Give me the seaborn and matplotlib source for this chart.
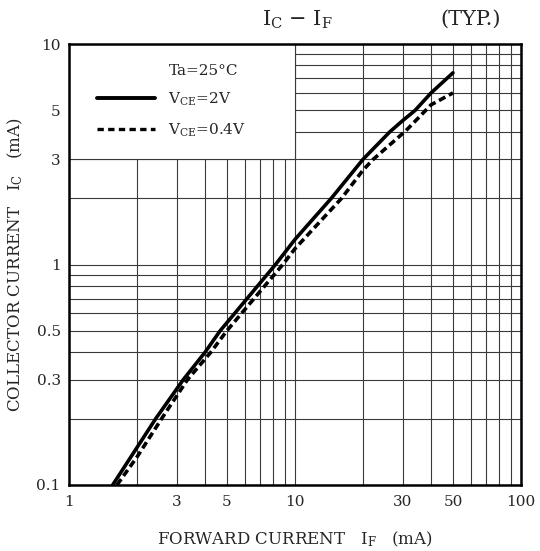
import matplotlib
matplotlib.use("Agg")
import matplotlib.pyplot as plt
import numpy as np
import pandas as pd
import seaborn as sns
from matplotlib.lines import Line2D
from matplotlib.patches import Rectangle

# values (IF in mA, IC in mA)
if_2v = [1.56, 2.0, 2.42, 3.2, 4.0, 4.66, 8.2, 10, 14.5, 20, 26.3, 30, 34, 40, 50]
ic_2v = [0.1, 0.148, 0.2, 0.3, 0.4, 0.5, 1.0, 1.3, 2.0, 3.0, 4.0, 4.5, 5.0, 6.0, 7.4]

if_04v = [1.63, 2.0, 2.57, 3.34, 4.24, 4.99, 8.83, 10, 16.1, 20, 22.2, 31, 40, 50]
ic_04v = [0.1, 0.134, 0.2, 0.3, 0.4, 0.5, 1.0, 1.18, 2.0, 2.68, 3.0, 4.05, 5.3, 6.0]

x_ticks = [1, 3, 5, 10, 30, 50, 100]
x_ticklabels = ["1", "3", "5", "10", "30", "50", "100"]
y_ticks = [0.1, 0.3, 0.5, 1, 3, 5, 10]
y_ticklabels = ["0.1", "0.3", "0.5", "1", "3", "5", "10"]

x_grid = [m * d for d in (1, 10) for m in range(1, 10)] + [100]
y_grid = [m * d for d in (0.1, 1) for m in range(1, 10)] + [10]

sns.set_style("white")
plt.rcParams["font.family"] = ["DejaVu Serif"]
plt.rcParams["mathtext.fontset"] = "dejavuserif"

fig = plt.figure(figsize=(5.4, 5.51), dpi=100)
ax = fig.add_axes([69 / 540, 1 - 485 / 551, 452 / 540, 441 / 551])
ax.set_xscale("log")
ax.set_yscale("log")
ax.set_xlim(1, 100)
ax.set_ylim(0.1, 10)

ax.set_xticks(x_grid, minor=True)
ax.set_yticks(y_grid, minor=True)
ax.set_xticks(x_ticks, x_ticklabels)
ax.set_yticks(y_ticks, y_ticklabels)
ax.xaxis.set_minor_formatter(plt.NullFormatter())
ax.yaxis.set_minor_formatter(plt.NullFormatter())
ax.tick_params(which="both", length=0, labelsize=11)
ax.tick_params(axis="x", pad=7)
ax.tick_params(axis="y", pad=6)
ax.set_axisbelow(True)
grid_color = "#3a3a3a"
ax.grid(which="both", color=grid_color, lw=0.8)

# blank box behind the legend (covers 1..10 x 3..10), its edges stay grid lines
ax.add_patch(Rectangle((1, 3), 9, 7, facecolor="white", edgecolor=grid_color,
                       lw=0.8, zorder=1))

df_2v = pd.DataFrame({"IF": if_2v, "IC": ic_2v})
df_04v = pd.DataFrame({"IF": if_04v, "IC": ic_04v})
sns.lineplot(data=df_2v, x="IF", y="IC", ax=ax, color="black", lw=2.6, zorder=3)
sns.lineplot(data=df_04v, x="IF", y="IC", ax=ax, color="black", lw=2.6,
             linestyle=(0, (2.0, 1.1)), zorder=3)

for s in ax.spines.values():
    s.set_linewidth(1.8)
    s.set_color("black")

handles = [
    Line2D([], [], color="none"),
    Line2D([], [], color="black", lw=2.8),
    Line2D([], [], color="black", lw=2.4, linestyle=(0, (1.9, 1.3))),
]
labels = ["Ta=25°C", r"V$_{\mathrm{CE}}$=2V", r"V$_{\mathrm{CE}}$=0.4V"]
ax.legend(handles, labels, loc="upper left", bbox_to_anchor=(0.061, 0.955),
          frameon=False, borderpad=0, borderaxespad=0, handlelength=3.8,
          handletextpad=0.9, labelspacing=0.85, fontsize=11)

ax.set_xlabel(r"FORWARD CURRENT   I$_{\mathrm{F}}$   (mA)", fontsize=12, labelpad=15)
ax.set_ylabel(r"COLLECTOR CURRENT   I$_{\mathrm{C}}$   (mA)", fontsize=12, labelpad=8)

fig.text(297 / 540, 1 - 20 / 551, r"I$_{\mathrm{C}}$ $-$ I$_{\mathrm{F}}$",
         ha="center", va="center", fontsize=15)
fig.text(471 / 540, 1 - 19 / 551, "(TYP.)", ha="center", va="center", fontsize=15)

fig.savefig("out.png", dpi=100)
